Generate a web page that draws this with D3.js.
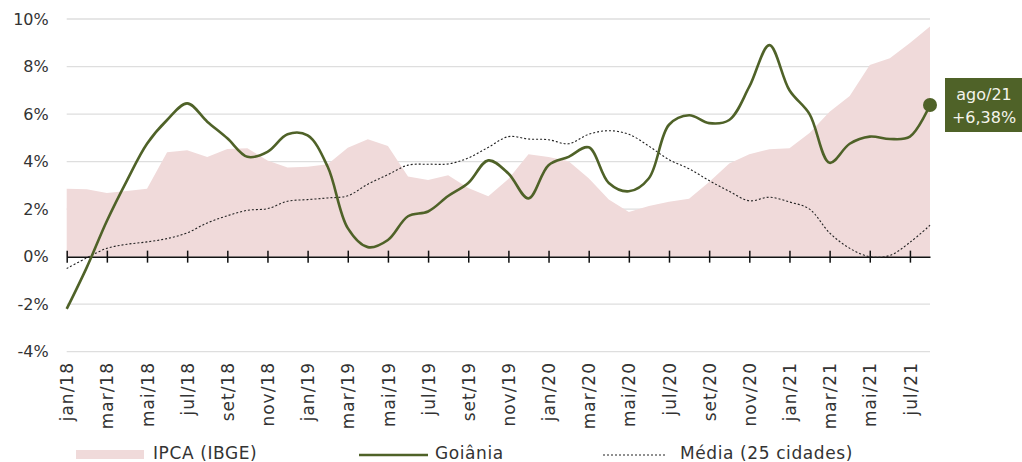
<!DOCTYPE html>
<html>
<head>
<meta charset="utf-8">
<script src="https://cdn.jsdelivr.net/npm/d3@7"></script>
<style>
  body { margin: 0; background: #fff; }
  text { font-family: "DejaVu Sans", sans-serif; }
</style>
</head>
<body>
<div id="chart"></div>
<script>
const months = ["jan/18","fev/18","mar/18","abr/18","mai/18","jun/18","jul/18","ago/18","set/18","out/18","nov/18","dez/18",
  "jan/19","fev/19","mar/19","abr/19","mai/19","jun/19","jul/19","ago/19","set/19","out/19","nov/19","dez/19",
  "jan/20","fev/20","mar/20","abr/20","mai/20","jun/20","jul/20","ago/20","set/20","out/20","nov/20","dez/20",
  "jan/21","fev/21","mar/21","abr/21","mai/21","jun/21","jul/21","ago/21"];

const tickMonths = months.filter((m, i) => i % 2 === 0);
const yTicks = [-4, -2, 0, 2, 4, 6, 8, 10];

const ipca = [2.86,2.84,2.68,2.76,2.86,4.39,4.48,4.19,4.53,4.56,4.05,3.75,
  3.78,3.89,4.58,4.94,4.66,3.37,3.22,3.43,2.89,2.54,3.27,4.31,
  4.19,4.01,3.30,2.40,1.88,2.13,2.31,2.44,3.14,3.92,4.31,4.52,
  4.56,5.20,6.10,6.76,8.06,8.35,8.99,9.68];

const goiania = [-2.2,-0.45,1.5,3.2,4.75,5.75,6.45,5.68,4.98,4.2,4.41,5.15,
  5.1,3.78,1.2,0.4,0.7,1.7,1.9,2.55,3.1,4.05,3.5,2.45,
  3.85,4.2,4.6,3.1,2.75,3.3,5.55,5.95,5.62,5.75,7.15,8.9,
  7.0,6.0,3.95,4.75,5.05,4.95,5.05,6.38];

const media = [-0.5,-0.05,0.35,0.52,0.62,0.76,1.0,1.42,1.72,1.95,2.02,2.33,
  2.4,2.47,2.56,3.05,3.45,3.85,3.89,3.9,4.15,4.6,5.05,4.95,
  4.92,4.75,5.15,5.3,5.15,4.65,4.08,3.7,3.2,2.75,2.35,2.5,
  2.3,2.0,1.0,0.35,0.0,0.05,0.6,1.32];

const olive = "#4f6228";
const pink = "#f0dada";
const font = "'DejaVu Sans', sans-serif";
const W = 1022, H = 462;

const svg = d3.select("#chart").append("svg")
    .attr("width", W)
    .attr("height", H);

const x = d3.scalePoint().domain(months).range([66.7, 930]);
const y = d3.scaleLinear().domain([-4, 10]).range([351.7, 19]);

// gridlines
svg.append("g")
    .selectAll("line")
    .data(yTicks.filter(d => d !== 0))
    .enter().append("line")
    .attr("x1", x.range()[0])
    .attr("x2", x.range()[1])
    .attr("y1", d => y(d))
    .attr("y2", d => y(d))
    .style("stroke", "#dedede")
    .style("stroke-width", 1.3);

// IPCA area
const area = d3.area()
    .x((d, i) => x(months[i]))
    .y0(y(0))
    .y1(d => y(d));

svg.append("path")
    .datum(ipca)
    .attr("d", area)
    .style("fill", pink);

// zero axis with ticks crossing
const zeroAxis = svg.append("g")
    .attr("transform", `translate(0,${y(0)})`)
    .call(d3.axisBottom(x).tickValues(tickMonths).tickFormat("").tickSizeOuter(0));
zeroAxis.select(".domain").style("stroke", "#111").style("stroke-width", 1.5);
zeroAxis.selectAll(".tick line")
    .attr("y1", -6).attr("y2", 6)
    .style("stroke", "#111").style("stroke-width", 1.5);

// x labels
const xLabels = svg.append("g")
    .attr("transform", "translate(0,362)")
    .call(d3.axisBottom(x).tickValues(tickMonths).tickSize(0));
xLabels.select(".domain").remove();
xLabels.selectAll("text")
    .attr("transform", "rotate(-90)")
    .attr("x", 0)
    .attr("y", 0)
    .attr("dy", "0.36em")
    .attr("text-anchor", "end")
    .style("font-size", "17px")
    .style("letter-spacing", "1px")
    .style("font-family", font)
    .style("fill", "#333");

// y labels
const yAxis = svg.append("g")
    .attr("transform", `translate(${x.range()[0]},0)`)
    .call(d3.axisLeft(y).tickValues(yTicks).tickFormat(d => d + "%").tickSize(0).tickPadding(18));
yAxis.select(".domain").remove();
yAxis.selectAll("text")
    .style("font-size", "16px")
    .style("font-family", font)
    .style("fill", "#333");

// Média line
const line = d3.line()
    .x((d, i) => x(months[i]))
    .y(d => y(d))
    .curve(d3.curveCatmullRom.alpha(0.5));

svg.append("path")
    .datum(media)
    .attr("d", line)
    .style("fill", "none")
    .style("stroke", "#222")
    .style("stroke-width", 1.1)
    .style("stroke-dasharray", "2,2");

// Goiânia line
svg.append("path")
    .datum(goiania)
    .attr("d", line)
    .style("fill", "none")
    .style("stroke", olive)
    .style("stroke-width", 2.6);

// last point annotation
const last = goiania.length - 1;
svg.append("circle")
    .attr("cx", x(months[last]))
    .attr("cy", y(goiania[last]))
    .attr("r", 7)
    .style("fill", olive);

svg.append("rect")
    .attr("x", 945)
    .attr("y", 78)
    .attr("width", 80)
    .attr("height", 54)
    .style("fill", olive);

svg.append("text")
    .attr("x", 984).attr("y", 100)
    .attr("text-anchor", "middle")
    .style("font-size", "16px")
    .style("fill", "#f4f4ec")
    .text(months[last]);

svg.append("text")
    .attr("x", 984).attr("y", 123)
    .attr("text-anchor", "middle")
    .style("font-size", "16px")
    .style("fill", "#f4f4ec")
    .text("+" + d3.format(".2f")(goiania[last]).replace(".", ",") + "%");

// legend
const legend = svg.append("g")
    .style("font-size", "17px")
    .style("letter-spacing", "0.6px");
legend.append("rect")
    .attr("x", 76).attr("y", 450).attr("width", 68).attr("height", 9)
    .style("fill", pink);
legend.append("text")
    .attr("x", 153).attr("y", 459)
    .style("fill", "#333")
    .text("IPCA (IBGE)");

legend.append("line")
    .attr("x1", 359).attr("x2", 428).attr("y1", 455).attr("y2", 455)
    .style("stroke", olive).style("stroke-width", 2.6);
legend.append("text")
    .attr("x", 435).attr("y", 459)
    .style("fill", "#333")
    .text("Goiânia");

legend.append("line")
    .attr("x1", 603).attr("x2", 667).attr("y1", 455).attr("y2", 455)
    .style("stroke", "#222").style("stroke-width", 1.1).style("stroke-dasharray", "2,2");
legend.append("text")
    .attr("x", 680).attr("y", 459)
    .style("fill", "#333")
    .text("Média (25 cidades)");
</script>
</body>
</html>
